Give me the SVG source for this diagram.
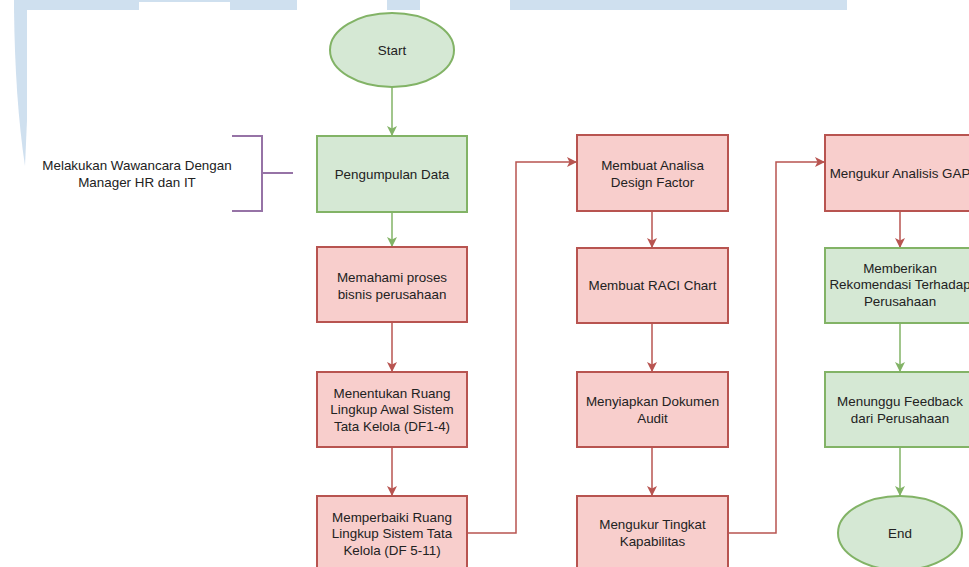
<svg xmlns="http://www.w3.org/2000/svg" width="969" height="567" viewBox="0 0 969 567">
<style>
  .g { fill:#d5e8d4; stroke:#82b366; stroke-width:2; }
  .r { fill:#f8cecc; stroke:#b85450; stroke-width:2; }
  .t { font-family:"Liberation Sans", Arial, sans-serif; font-size:13.4px; fill:#222; text-anchor:middle; dominant-baseline:central; }
  .cg { fill:none; stroke:#82b366; stroke-width:1.5; }
  .cr { fill:none; stroke:#b85450; stroke-width:1.5; }
  .wm { fill:#cfe0ef; }
</style>
<defs>
  <marker id="ag" viewBox="0 0 10 10" refX="10" refY="5" markerWidth="10" markerHeight="10" markerUnits="userSpaceOnUse" orient="auto">
    <path d="M0,0 L10,5 L0,10 L2.5,5 Z" fill="#82b366"/>
  </marker>
  <marker id="ar" viewBox="0 0 10 10" refX="10" refY="5" markerWidth="10" markerHeight="10" markerUnits="userSpaceOnUse" orient="auto">
    <path d="M0,0 L10,5 L0,10 L2.5,5 Z" fill="#b85450"/>
  </marker>
</defs>
<rect width="969" height="567" fill="#ffffff"/>
<g id="watermark">
  <rect class="wm" x="14" y="0" width="125" height="10"/>
  <rect class="wm" x="139" y="0" width="91" height="2"/>
  <rect class="wm" x="230" y="0" width="67" height="10"/>
  <rect class="wm" x="387" y="0" width="33" height="10"/>
  <rect class="wm" x="510" y="0" width="337" height="10"/>
  <path class="wm" d="M14,8 Q15,100 25,166 L27,120 L27,8 Z"/>
</g>
<g id="connectors">
  <path class="cg" d="M392,87 L392,136" marker-end="url(#ag)"/>
  <path class="cg" d="M392,212 L392,247" marker-end="url(#ag)"/>
  <path class="cr" d="M392,322 L392,372" marker-end="url(#ar)"/>
  <path class="cr" d="M392,447 L392,496" marker-end="url(#ar)"/>
  <path class="cr" d="M467,533 L516,533 L516,162 L577,162" marker-end="url(#ar)"/>
  <path class="cr" d="M652,211 L652,248" marker-end="url(#ar)"/>
  <path class="cr" d="M652,323 L652,372" marker-end="url(#ar)"/>
  <path class="cr" d="M652,447 L652,496" marker-end="url(#ar)"/>
  <path class="cr" d="M728,533 L776,533 L776,162 L825,162" marker-end="url(#ar)"/>
  <path class="cr" d="M900,211 L900,248" marker-end="url(#ar)"/>
  <path class="cg" d="M900,323 L900,372" marker-end="url(#ag)"/>
  <path class="cg" d="M900,447 L900,496" marker-end="url(#ag)"/>
</g>
<g id="note">
  <path d="M232,136 L262,136 L262,211 L232,211 M262,173 L293,173" fill="none" stroke="#9673a6" stroke-width="2"/>
  <text class="t" x="137" y="165">Melakukan Wawancara Dengan</text>
  <text class="t" x="137" y="182">Manager HR dan IT</text>
</g>
<g id="start">
  <ellipse class="g" cx="392" cy="50" rx="62" ry="37"/>
  <text class="t" x="392" y="50">Start</text>
</g>
<g id="pengumpulan">
  <rect class="g" x="317" y="136" width="150" height="76"/>
  <text class="t" x="392" y="174">Pengumpulan Data</text>
</g>
<g id="memahami">
  <rect class="r" x="317" y="247" width="150" height="75"/>
  <text class="t" x="392" y="277">Memahami proses</text>
  <text class="t" x="392" y="294">bisnis perusahaan</text>
</g>
<g id="menentukan">
  <rect class="r" x="317" y="372" width="150" height="75"/>
  <text class="t" x="392" y="393">Menentukan Ruang</text>
  <text class="t" x="392" y="409.5">Lingkup Awal Sistem</text>
  <text class="t" x="392" y="426">Tata Kelola (DF1-4)</text>
</g>
<g id="memperbaiki">
  <rect class="r" x="317" y="496" width="150" height="75"/>
  <text class="t" x="392" y="517">Memperbaiki Ruang</text>
  <text class="t" x="392" y="533.5">Lingkup Sistem Tata</text>
  <text class="t" x="392" y="550">Kelola (DF 5-11)</text>
</g>
<g id="analisa">
  <rect class="r" x="577" y="135" width="151" height="76"/>
  <text class="t" x="652.5" y="165">Membuat Analisa</text>
  <text class="t" x="652.5" y="182">Design Factor</text>
</g>
<g id="raci">
  <rect class="r" x="577" y="248" width="151" height="75"/>
  <text class="t" x="652.5" y="285">Membuat RACI Chart</text>
</g>
<g id="dokumen">
  <rect class="r" x="577" y="372" width="151" height="75"/>
  <text class="t" x="652.5" y="401">Menyiapkan Dokumen</text>
  <text class="t" x="652.5" y="418">Audit</text>
</g>
<g id="kapabilitas">
  <rect class="r" x="577" y="496" width="151" height="75"/>
  <text class="t" x="652.5" y="524">Mengukur Tingkat</text>
  <text class="t" x="652.5" y="541">Kapabilitas</text>
</g>
<g id="gap">
  <rect class="r" x="825" y="135" width="150" height="76"/>
  <text class="t" x="900" y="173">Mengukur Analisis GAP</text>
</g>
<g id="rekomendasi">
  <rect class="g" x="825" y="248" width="150" height="75"/>
  <text class="t" x="900" y="268">Memberikan</text>
  <text class="t" x="900" y="284.5">Rekomendasi Terhadap</text>
  <text class="t" x="900" y="301">Perusahaan</text>
</g>
<g id="feedback">
  <rect class="g" x="825" y="372" width="150" height="75"/>
  <text class="t" x="900" y="401">Menunggu Feedback</text>
  <text class="t" x="900" y="418">dari Perusahaan</text>
</g>
<g id="end">
  <ellipse class="g" cx="900" cy="533" rx="62" ry="37"/>
  <text class="t" x="900" y="533">End</text>
</g>
</svg>
